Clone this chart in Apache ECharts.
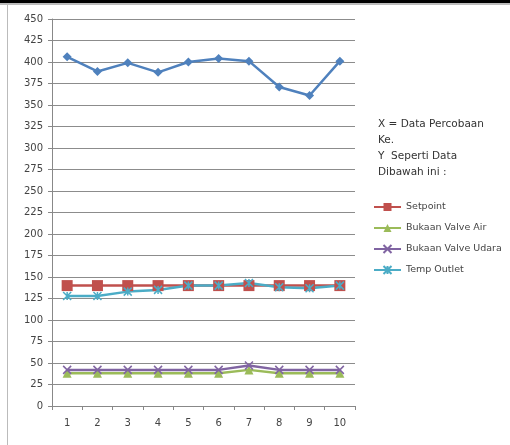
<!DOCTYPE html>
<html>
<head>
<meta charset="utf-8">
<script src="https://cdn.jsdelivr.net/npm/echarts@6/dist/echarts.min.js"></script>
<style>
  * { margin: 0; padding: 0; }
  body { background: #fff; }
  #main { width: 510px; height: 445px; }
</style>
</head>
<body>
<div id="main"></div>
<script>
  // data
  var percobaan = ['1', '2', '3', '4', '5', '6', '7', '8', '9', '10'];
  var dataUtama = [406, 389, 399, 388, 400, 404, 401, 371, 361, 401];
  var setpoint = [140, 140, 140, 140, 140, 140, 140, 140, 140, 140];
  var valveAir = [38, 38, 38, 38, 38, 38, 42, 38, 38, 38];
  var valveUdara = [42, 42, 42, 42, 42, 42, 47, 42, 42, 42];
  var tempOutlet = [128, 128, 133, 135, 140, 140, 143, 138, 137, 140];
  var keterangan = ['X = Data Percobaan', 'Ke.', 'Y  Seperti Data', 'Dibawah ini :'];

  var chart = echarts.init(document.getElementById('main'));

  function garis(name, data, color, symbol, size, garisSaja) {
    return {
      name: name,
      type: 'line',
      data: data,
      symbol: symbol,
      symbolSize: size,
      showSymbol: true,
      lineStyle: { width: 2.5, color: color },
      itemStyle: garisSaja
        ? { color: color, borderColor: color, borderWidth: 1.5 }
        : { color: color },
      animation: false
    };
  }

  chart.setOption({
    backgroundColor: '#fff',
    grid: { left: 52, right: 155, top: 19, bottom: 39 },
    xAxis: {
      type: 'category',
      data: percobaan,
      boundaryGap: true,
      axisLine: { lineStyle: { color: '#888', width: 1 } },
      axisTick: { show: true, alignWithLabel: false, length: 4, lineStyle: { color: '#888' } },
      axisLabel: { color: '#444', fontSize: 10, margin: 12, fontFamily: 'DejaVu Sans' }
    },
    yAxis: {
      type: 'value',
      min: 0,
      max: 450,
      interval: 25,
      axisLine: { show: true, lineStyle: { color: '#888', width: 1 } },
      axisTick: { show: true, inside: false, length: 4, lineStyle: { color: '#888' } },
      axisLabel: { color: '#444', fontSize: 10, margin: 9, fontFamily: 'DejaVu Sans' },
      splitLine: { show: true, lineStyle: { color: '#8c8c8c', width: 1 } }
    },
    legend: {
      orient: 'vertical',
      left: 368,
      top: 197,
      itemWidth: 27,
      itemHeight: 10,
      itemGap: 11,
      textStyle: { color: '#444', fontSize: 9.5, fontFamily: 'DejaVu Sans' },
      data: ['Setpoint', 'Bukaan Valve Air', 'Bukaan Valve Udara', 'Temp Outlet']
    },
    graphic: [
      { type: 'rect', shape: { x: 0, y: 0, width: 510, height: 3 }, style: { fill: '#000' }, silent: true },
      { type: 'rect', shape: { x: 0, y: 3, width: 510, height: 2 }, style: { fill: '#bbb' }, silent: true },
      { type: 'rect', shape: { x: 7, y: 5, width: 1, height: 440 }, style: { fill: '#bbb' }, silent: true },
      {
        type: 'text',
        left: 378,
        top: 116,
        style: {
          text: keterangan.join('\n'),
          fill: '#333',
          fontSize: 10.5,
          lineHeight: 16,
          fontFamily: 'DejaVu Sans'
        }
      }
    ],
    series: [
      garis('Data', dataUtama, '#4F81BD', 'diamond', 9),
      garis('Setpoint', setpoint, '#C0504D', 'rect', 11),
      garis('Bukaan Valve Air', valveAir, '#9BBB59', 'triangle', 9),
      garis('Bukaan Valve Udara', valveUdara, '#8064A2', 'path://M0,0 L10,10 M10,0 L0,10', 8, true),
      garis('Temp Outlet', tempOutlet, '#4BACC6', 'path://M0,0 L10,10 M10,0 L0,10 M5,0 L5,10', 8, true)
    ]
  });
</script>
</body>
</html>
